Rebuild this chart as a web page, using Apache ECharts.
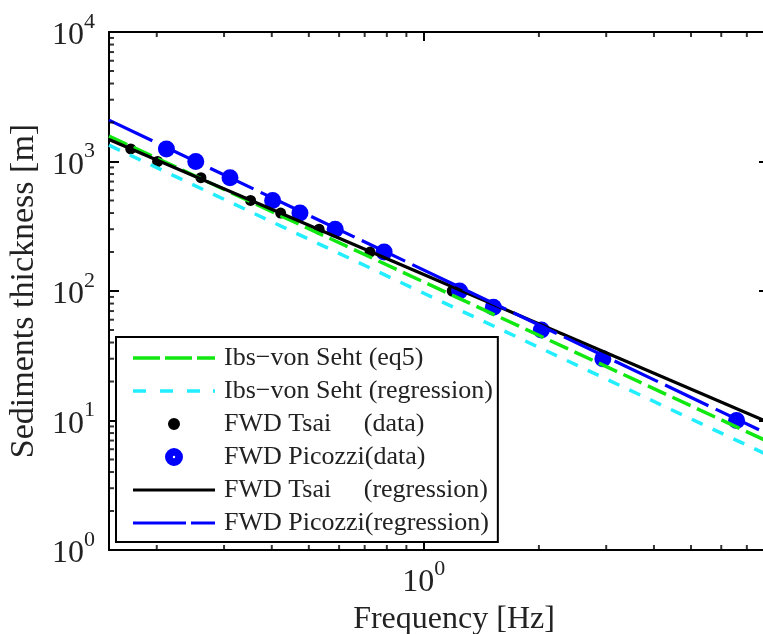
<!DOCTYPE html>
<html>
<head>
<meta charset="utf-8">
<script src="https://cdn.jsdelivr.net/npm/echarts@6/dist/echarts.min.js"></script>
<style>
html,body{margin:0;padding:0;background:#fff;}
#chart{width:763px;height:634px;}
</style>
</head>
<body>
<div id="chart"></div>
<script>
// ---- data ----
const lineFreq = [0.15, 8];                 // end frequencies of the regression lines [Hz]
const ibsEq5 = [1572, 6.82];                // Ibs-von Seht (eq5) thickness at lineFreq
const ibsRegression = [1336, 5.36];         // Ibs-von Seht (regression)
const tsaiRegression = [1480, 9.63];        // FWD Tsai (regression)
const picozziRegression = [2088, 7.79];     // FWD Picozzi (regression)

const tsaiFreq = [0.171, 0.201, 0.261, 0.352, 0.422, 0.532, 0.723, 1.186];
const tsaiThick = [1250, 1000, 750, 500, 400, 300, 200, 100];

const picozziFreq = [0.212, 0.253, 0.311, 0.402, 0.474, 0.586, 0.787, 1.24, 1.52, 2.03, 2.94, 6.58];
const picozziThick = [1250, 1000, 750, 500, 400, 300, 200, 100, 75, 50, 30, 10];

const xMinorTicks = [0.2, 0.3, 0.4, 0.5, 0.6, 0.7, 0.8, 0.9, 2, 3, 4, 5, 6, 7];
const yMinorTicks = [2,3,4,5,6,7,8,9, 20,30,40,50,60,70,80,90, 200,300,400,500,600,700,800,900, 2000,3000,4000,5000,6000,7000,8000,9000];

const legendNames = [
  'Ibs\u2212von Seht (eq5)',
  'Ibs\u2212von Seht (regression)',
  'FWD Tsai     (data)',
  'FWD Picozzi(data)',
  'FWD Tsai     (regression)',
  'FWD Picozzi(regression)'
];

const X_MIN = 0.15, X_MAX = 8, Y_MIN = 1, Y_MAX = 10000;
const FONT = '"Liberation Serif", "Times New Roman", serif';
const TXT = '#222';
const C_GREEN = '#11e811', C_CYAN = '#22eeff', C_BLACK = '#000000', C_BLUE = '#0000ff';

// legend icon shapes (styling only)
const ICON_GREEN = 'path://M0,0H27V3.5H0Z M32,0H59V3.5H32Z M64,0H82V3.5H64Z';
const ICON_CYAN = 'path://M0,0H13V3.5H0Z M27,0H40V3.5H27Z M54,0H67V3.5H54Z M80,0H82V3.5H80Z';
const ICON_BLACK_LINE = 'path://M0,0H82V3.2H0Z';
const ICON_BLUE_LINE = 'path://M0,0H53V3.2H0Z M58,0H82V3.2H58Z';
const ICON_BLACK_DOT = 'path://M0,0L0.01,0L0.01,0.01Z M18,18L17.99,18L17.99,17.99Z M3,9A6,6 0 1,1 15,9A6,6 0 1,1 3,9Z';
const ICON_BLUE_DOT = 'path://M0,9A9,9 0 1,1 18,9A9,9 0 1,1 0,9Z M7.8,9A1.2,1.2 0 1,0 10.2,9A1.2,1.2 0 1,0 7.8,9Z';

const zip = (a, b) => a.map((v, i) => [v, b[i]]);

function powLabel(v) {
  const l = Math.log10(v);
  const e = Math.round(l);
  if (Math.abs(l - e) > 1e-6) return '';
  return '{b|10}{s|' + e + '}';
}
const rich = {
  b: {fontFamily: FONT, fontSize: 32, color: TXT, lineHeight: 32, verticalAlign: 'bottom'},
  s: {fontFamily: FONT, fontSize: 22, color: TXT, lineHeight: 22, verticalAlign: 'bottom', padding: [0, 0, 19, 0]}
};

function tickSeries(data, size, offset) {
  return {
    type: 'scatter', silent: true, clip: false, z: 5,
    symbol: 'rect', symbolSize: size, symbolOffset: offset,
    itemStyle: {color: '#000'},
    data: data, animation: false, legendHoverLink: false
  };
}

const chart = echarts.init(document.getElementById('chart'), null, {renderer: 'canvas'});

const option = {
  animation: false,
  backgroundColor: '#fff',
  grid: {left: 109, top: 32, right: -6, bottom: 84, show: false, containLabel: false, outerBoundsMode: 'none'},
  xAxis: [
    {
      type: 'log', logBase: 10, min: X_MIN, max: X_MAX, position: 'bottom',
      name: 'Frequency [Hz]', nameLocation: 'middle', nameGap: 46,
      nameTextStyle: {fontFamily: FONT, fontSize: 32, color: TXT, lineHeight: 32, padding: [0, 0, 0, 30]},
      axisLine: {show: true, onZero: false, lineStyle: {color: '#000', width: 2}},
      axisTick: {show: true, inside: true, length: 9, lineStyle: {color: '#000', width: 2}},
      axisLabel: {margin: 17, formatter: powLabel, rich: rich},
      splitLine: {show: false}, minorTick: {show: false}
    },
    {
      type: 'log', logBase: 10, min: X_MIN, max: X_MAX, position: 'top',
      axisLine: {show: true, onZero: false, lineStyle: {color: '#000', width: 2}},
      axisTick: {show: true, inside: true, length: 9, lineStyle: {color: '#000', width: 2}},
      axisLabel: {show: false}, splitLine: {show: false}
    }
  ],
  yAxis: [
    {
      type: 'log', logBase: 10, min: Y_MIN, max: Y_MAX, position: 'left',
      name: 'Sediments thickness [m]', nameLocation: 'middle', nameGap: 63,
      nameTextStyle: {fontFamily: FONT, fontSize: 34, color: TXT, lineHeight: 34},
      axisLine: {show: true, onZero: false, lineStyle: {color: '#000', width: 2}},
      axisTick: {show: true, inside: true, length: 10, lineStyle: {color: '#000', width: 2}},
      axisLabel: {margin: 14, padding: [8, 0, 0, 0], formatter: powLabel, rich: rich},
      splitLine: {show: false}
    },
    {
      type: 'log', logBase: 10, min: Y_MIN, max: Y_MAX, position: 'right',
      axisLine: {show: true, onZero: false, lineStyle: {color: '#000', width: 2}},
      axisTick: {show: true, inside: true, length: 10, lineStyle: {color: '#000', width: 2}},
      axisLabel: {show: false}, splitLine: {show: false}
    }
  ],
  legend: {
    orient: 'vertical', left: 116, top: 337,
    padding: [8, 5, 6, 17],
    itemWidth: 82, itemHeight: 18, itemGap: 7,
    borderColor: '#000', borderWidth: 2, backgroundColor: '#fff',
    textStyle: {fontFamily: FONT, fontSize: 26, color: TXT, padding: [0, 0, 0, 4]},
    selectedMode: false,
    data: [
      {name: legendNames[0], icon: ICON_GREEN, itemStyle: {color: C_GREEN, borderWidth: 0}},
      {name: legendNames[1], icon: ICON_CYAN, itemStyle: {color: C_CYAN, borderWidth: 0}},
      {name: legendNames[2], icon: ICON_BLACK_DOT, itemStyle: {color: C_BLACK, borderWidth: 0}},
      {name: legendNames[3], icon: ICON_BLUE_DOT, itemStyle: {color: C_BLUE, borderWidth: 0}},
      {name: legendNames[4], icon: ICON_BLACK_LINE, itemStyle: {color: C_BLACK, borderWidth: 0}},
      {name: legendNames[5], icon: ICON_BLUE_LINE, itemStyle: {color: C_BLUE, borderWidth: 0}}
    ]
  },
  series: [
    {
      name: legendNames[0], type: 'line', symbol: 'none', showSymbol: false,
      lineStyle: {color: C_GREEN, width: 3.5, type: [20, 7]}, itemStyle: {color: C_GREEN},
      data: zip(lineFreq, ibsEq5)
    },
    {
      name: legendNames[1], type: 'line', symbol: 'none', showSymbol: false,
      lineStyle: {color: C_CYAN, width: 3.5, type: [12, 11]}, itemStyle: {color: C_CYAN},
      data: zip(lineFreq, ibsRegression)
    },
    {
      name: legendNames[4], type: 'line', symbol: 'none', showSymbol: false,
      lineStyle: {color: C_BLACK, width: 3.2}, itemStyle: {color: C_BLACK},
      data: zip(lineFreq, tsaiRegression)
    },
    {
      name: legendNames[5], type: 'line', symbol: 'none', showSymbol: false,
      lineStyle: {color: C_BLUE, width: 3.2, type: [48, 8]}, itemStyle: {color: C_BLUE},
      data: zip(lineFreq, picozziRegression)
    },
    {
      name: legendNames[2], type: 'scatter', symbol: 'circle', symbolSize: 11,
      itemStyle: {color: C_BLACK, opacity: 1},
      data: zip(tsaiFreq, tsaiThick)
    },
    {
      name: legendNames[3], type: 'scatter', symbol: 'circle', symbolSize: 17,
      itemStyle: {color: C_BLUE, opacity: 1},
      data: zip(picozziFreq, picozziThick)
    },
    tickSeries(xMinorTicks.map(v => [v, Y_MIN]), [2, 5], [0, -2.5]),
    tickSeries(xMinorTicks.map(v => [v, Y_MAX]), [2, 5], [0, 2.5]),
    tickSeries(yMinorTicks.map(v => [X_MIN, v]), [5, 2], [2.5, 0]),
    tickSeries(yMinorTicks.map(v => [X_MAX, v]), [5, 2], [-2.5, 0])
  ]
};
chart.setOption(option);
</script>
</body>
</html>
